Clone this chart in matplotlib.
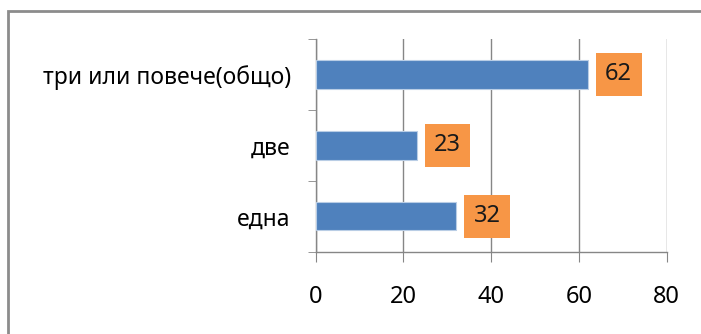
import matplotlib.pyplot as plt
from matplotlib.patches import Rectangle

# данни
categories = ["една", "две", "три или повече(общо)"]
values = [32, 23, 62]
x_ticks = [0, 20, 40, 60, 80]

bar_color = "#4F81BD"
label_color = "#F79646"
grid_color = "#868686"

plt.rcParams['font.family'] = ['Noto Sans', 'DejaVu Sans']

fig = plt.figure(figsize=(7.01, 3.34), dpi=100)
ax = fig.add_axes([315.7 / 701, 1 - 251.7 / 334, 351 / 701, 212.7 / 334])

# рамка около диаграмата
fig.patches.append(Rectangle((8 / 701, -0.1), 1.2, 1.1 - 11 / 334,
                             transform=fig.transFigure, fill=False,
                             edgecolor="#8c8c8c", linewidth=2))

pos = range(len(categories))
ax.barh(pos, values, height=0.4, color=bar_color, edgecolor="#b9cde5",
        linewidth=0.8, zorder=3)

for p, v in zip(pos, values):
    ax.annotate(str(v), xy=(v, p), xytext=(12.5, 0), textcoords="offset points",
                ha="left", va="center", fontsize=17, color="#1a1a1a", zorder=4,
                bbox=dict(boxstyle="square,pad=0.4", facecolor=label_color,
                          edgecolor="none"))

ax.set_xlim(0, 80)
ax.set_ylim(-0.5, len(categories) - 0.5)
ax.set_xticks(x_ticks)
ax.set_yticks(list(pos))
ax.set_yticklabels(categories)
ax.set_yticks([i - 0.5 for i in range(len(categories) + 1)], minor=True)

ax.grid(axis="x", color=grid_color, linewidth=1, zorder=0)
for side in ["top", "right"]:
    ax.spines[side].set_visible(False)
for side in ["left", "bottom"]:
    ax.spines[side].set_color(grid_color)
    ax.spines[side].set_linewidth(1)

ax.tick_params(axis="x", direction="out", length=7, color=grid_color,
               labelsize=17, pad=17)
ax.tick_params(axis="y", which="major", length=0, labelsize=16.5, pad=18)
ax.tick_params(axis="y", which="minor", direction="out", length=6,
               color=grid_color)

fig.savefig("out.png", dpi=100)
